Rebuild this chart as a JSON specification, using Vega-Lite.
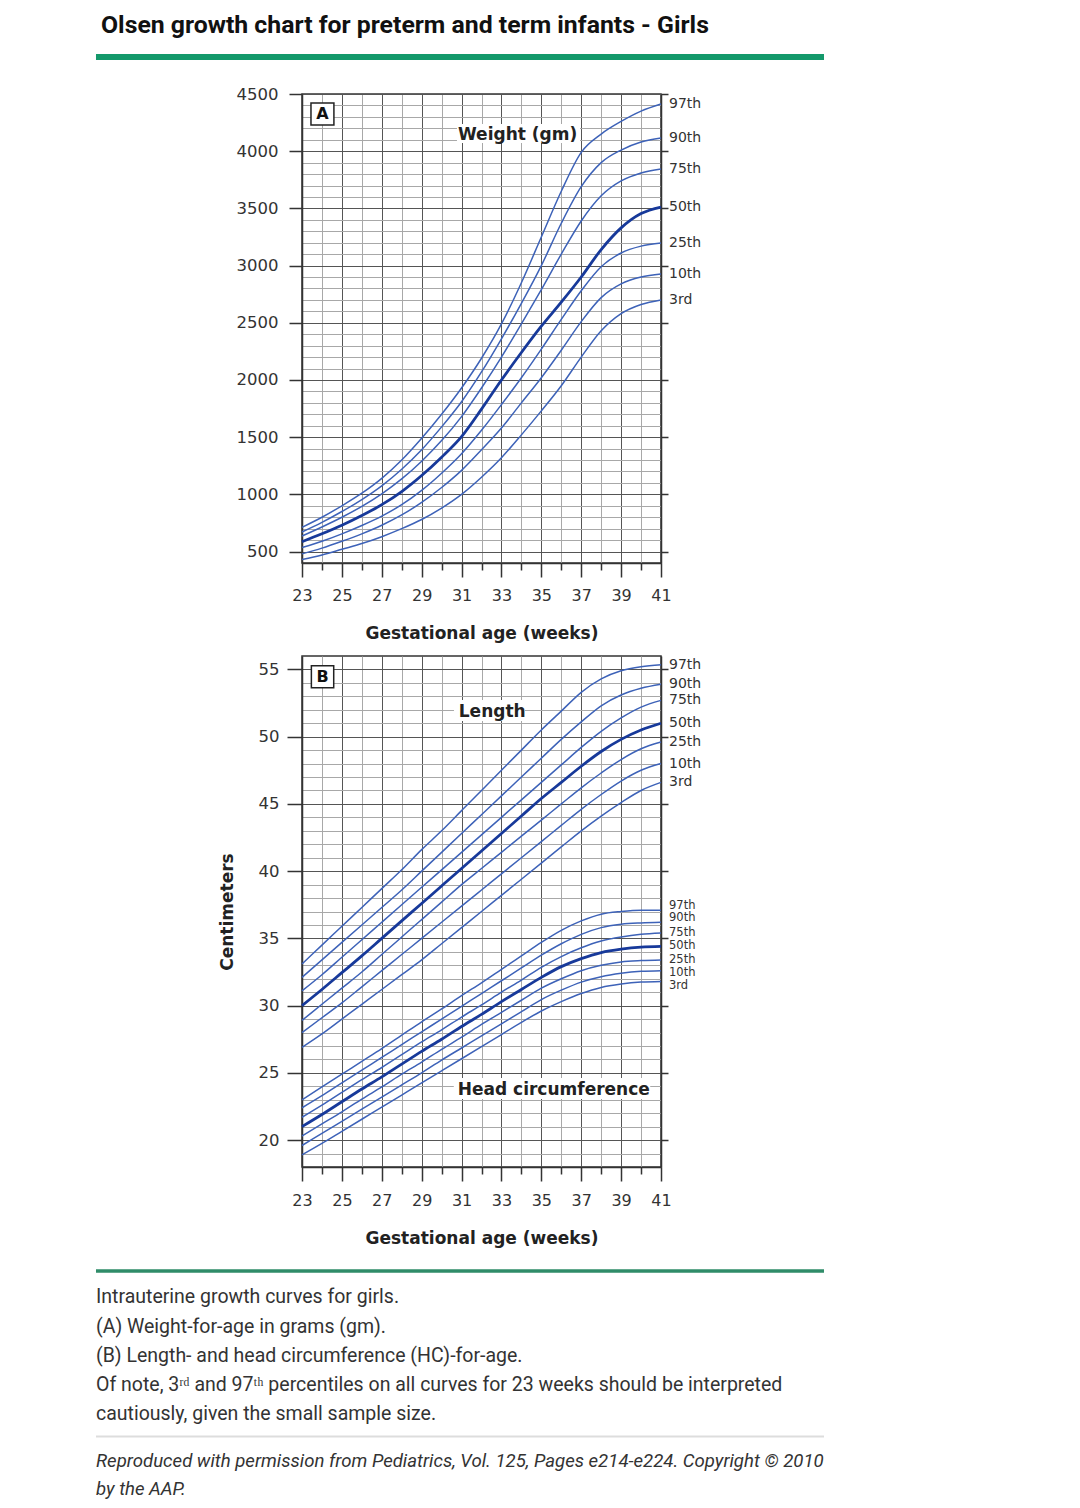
{
  "$schema": "https://vega.github.io/schema/vega-lite/v6.json",
  "background": "white",
  "padding": {"left": 92, "top": 12, "right": 20, "bottom": 10},
  "spacing": 93,
  "bounds": "flush",
  "config": {
    "view": {"stroke": "#333", "strokeWidth": 1.5},
    "axis": {"labelFont": "DejaVu Sans", "titleFont": "DejaVu Sans"}
  },
  "datasets": {
    "g": [
      {"m":"W","p":"3rd","w":23,"v":430},{"m":"W","p":"3rd","w":24,"v":470},{"m":"W","p":"3rd","w":25,"v":520},{"m":"W","p":"3rd","w":26,"v":570},{"m":"W","p":"3rd","w":27,"v":630},{"m":"W","p":"3rd","w":28,"v":700},{"m":"W","p":"3rd","w":29,"v":780},{"m":"W","p":"3rd","w":30,"v":880},{"m":"W","p":"3rd","w":31,"v":1000},{"m":"W","p":"3rd","w":32,"v":1150},{"m":"W","p":"3rd","w":33,"v":1320},{"m":"W","p":"3rd","w":34,"v":1520},{"m":"W","p":"3rd","w":35,"v":1730},{"m":"W","p":"3rd","w":36,"v":1950},{"m":"W","p":"3rd","w":37,"v":2200},{"m":"W","p":"3rd","w":38,"v":2430},{"m":"W","p":"3rd","w":39,"v":2580},{"m":"W","p":"3rd","w":40,"v":2660},{"m":"W","p":"3rd","w":41,"v":2700},
      {"m":"W","p":"10th","w":23,"v":480},{"m":"W","p":"10th","w":24,"v":530},{"m":"W","p":"10th","w":25,"v":590},{"m":"W","p":"10th","w":26,"v":655},{"m":"W","p":"10th","w":27,"v":730},{"m":"W","p":"10th","w":28,"v":820},{"m":"W","p":"10th","w":29,"v":930},{"m":"W","p":"10th","w":30,"v":1060},{"m":"W","p":"10th","w":31,"v":1210},{"m":"W","p":"10th","w":32,"v":1390},{"m":"W","p":"10th","w":33,"v":1580},{"m":"W","p":"10th","w":34,"v":1800},{"m":"W","p":"10th","w":35,"v":2020},{"m":"W","p":"10th","w":36,"v":2260},{"m":"W","p":"10th","w":37,"v":2510},{"m":"W","p":"10th","w":38,"v":2720},{"m":"W","p":"10th","w":39,"v":2840},{"m":"W","p":"10th","w":40,"v":2900},{"m":"W","p":"10th","w":41,"v":2926},
      {"m":"W","p":"25th","w":23,"v":535},{"m":"W","p":"25th","w":24,"v":590},{"m":"W","p":"25th","w":25,"v":655},{"m":"W","p":"25th","w":26,"v":728},{"m":"W","p":"25th","w":27,"v":810},{"m":"W","p":"25th","w":28,"v":910},{"m":"W","p":"25th","w":29,"v":1035},{"m":"W","p":"25th","w":30,"v":1185},{"m":"W","p":"25th","w":31,"v":1355},{"m":"W","p":"25th","w":32,"v":1560},{"m":"W","p":"25th","w":33,"v":1785},{"m":"W","p":"25th","w":34,"v":2020},{"m":"W","p":"25th","w":35,"v":2270},{"m":"W","p":"25th","w":36,"v":2530},{"m":"W","p":"25th","w":37,"v":2780},{"m":"W","p":"25th","w":38,"v":2990},{"m":"W","p":"25th","w":39,"v":3110},{"m":"W","p":"25th","w":40,"v":3170},{"m":"W","p":"25th","w":41,"v":3197},
      {"m":"W","p":"50th","w":23,"v":586},{"m":"W","p":"50th","w":24,"v":655},{"m":"W","p":"50th","w":25,"v":730},{"m":"W","p":"50th","w":26,"v":815},{"m":"W","p":"50th","w":27,"v":910},{"m":"W","p":"50th","w":28,"v":1025},{"m":"W","p":"50th","w":29,"v":1165},{"m":"W","p":"50th","w":30,"v":1325},{"m":"W","p":"50th","w":31,"v":1505},{"m":"W","p":"50th","w":32,"v":1745},{"m":"W","p":"50th","w":33,"v":2000},{"m":"W","p":"50th","w":34,"v":2240},{"m":"W","p":"50th","w":35,"v":2470},{"m":"W","p":"50th","w":36,"v":2680},{"m":"W","p":"50th","w":37,"v":2900},{"m":"W","p":"50th","w":38,"v":3140},{"m":"W","p":"50th","w":39,"v":3330},{"m":"W","p":"50th","w":40,"v":3455},{"m":"W","p":"50th","w":41,"v":3512},
      {"m":"W","p":"75th","w":23,"v":636},{"m":"W","p":"75th","w":24,"v":715},{"m":"W","p":"75th","w":25,"v":800},{"m":"W","p":"75th","w":26,"v":895},{"m":"W","p":"75th","w":27,"v":1005},{"m":"W","p":"75th","w":28,"v":1135},{"m":"W","p":"75th","w":29,"v":1290},{"m":"W","p":"75th","w":30,"v":1470},{"m":"W","p":"75th","w":31,"v":1680},{"m":"W","p":"75th","w":32,"v":1930},{"m":"W","p":"75th","w":33,"v":2200},{"m":"W","p":"75th","w":34,"v":2490},{"m":"W","p":"75th","w":35,"v":2790},{"m":"W","p":"75th","w":36,"v":3100},{"m":"W","p":"75th","w":37,"v":3390},{"m":"W","p":"75th","w":38,"v":3610},{"m":"W","p":"75th","w":39,"v":3740},{"m":"W","p":"75th","w":40,"v":3810},{"m":"W","p":"75th","w":41,"v":3844},
      {"m":"W","p":"90th","w":23,"v":671},{"m":"W","p":"90th","w":24,"v":755},{"m":"W","p":"90th","w":25,"v":850},{"m":"W","p":"90th","w":26,"v":955},{"m":"W","p":"90th","w":27,"v":1075},{"m":"W","p":"90th","w":28,"v":1220},{"m":"W","p":"90th","w":29,"v":1390},{"m":"W","p":"90th","w":30,"v":1590},{"m":"W","p":"90th","w":31,"v":1810},{"m":"W","p":"90th","w":32,"v":2070},{"m":"W","p":"90th","w":33,"v":2360},{"m":"W","p":"90th","w":34,"v":2670},{"m":"W","p":"90th","w":35,"v":3000},{"m":"W","p":"90th","w":36,"v":3370},{"m":"W","p":"90th","w":37,"v":3690},{"m":"W","p":"90th","w":38,"v":3900},{"m":"W","p":"90th","w":39,"v":4010},{"m":"W","p":"90th","w":40,"v":4080},{"m":"W","p":"90th","w":41,"v":4115},
      {"m":"W","p":"97th","w":23,"v":712},{"m":"W","p":"97th","w":24,"v":800},{"m":"W","p":"97th","w":25,"v":900},{"m":"W","p":"97th","w":26,"v":1010},{"m":"W","p":"97th","w":27,"v":1140},{"m":"W","p":"97th","w":28,"v":1300},{"m":"W","p":"97th","w":29,"v":1490},{"m":"W","p":"97th","w":30,"v":1700},{"m":"W","p":"97th","w":31,"v":1930},{"m":"W","p":"97th","w":32,"v":2190},{"m":"W","p":"97th","w":33,"v":2490},{"m":"W","p":"97th","w":34,"v":2850},{"m":"W","p":"97th","w":35,"v":3250},{"m":"W","p":"97th","w":36,"v":3650},{"m":"W","p":"97th","w":37,"v":3990},{"m":"W","p":"97th","w":38,"v":4150},{"m":"W","p":"97th","w":39,"v":4260},{"m":"W","p":"97th","w":40,"v":4350},{"m":"W","p":"97th","w":41,"v":4412},
      {"m":"L","p":"3rd","w":23,"v":26.9},{"m":"L","p":"3rd","w":24,"v":27.9},{"m":"L","p":"3rd","w":25,"v":29.0},{"m":"L","p":"3rd","w":26,"v":30.1},{"m":"L","p":"3rd","w":27,"v":31.2},{"m":"L","p":"3rd","w":28,"v":32.3},{"m":"L","p":"3rd","w":29,"v":33.4},{"m":"L","p":"3rd","w":30,"v":34.6},{"m":"L","p":"3rd","w":31,"v":35.8},{"m":"L","p":"3rd","w":32,"v":37.0},{"m":"L","p":"3rd","w":33,"v":38.2},{"m":"L","p":"3rd","w":34,"v":39.4},{"m":"L","p":"3rd","w":35,"v":40.6},{"m":"L","p":"3rd","w":36,"v":41.8},{"m":"L","p":"3rd","w":37,"v":43.0},{"m":"L","p":"3rd","w":38,"v":44.1},{"m":"L","p":"3rd","w":39,"v":45.1},{"m":"L","p":"3rd","w":40,"v":46.0},{"m":"L","p":"3rd","w":41,"v":46.6},
      {"m":"L","p":"10th","w":23,"v":28.0},{"m":"L","p":"10th","w":24,"v":29.1},{"m":"L","p":"10th","w":25,"v":30.2},{"m":"L","p":"10th","w":26,"v":31.4},{"m":"L","p":"10th","w":27,"v":32.6},{"m":"L","p":"10th","w":28,"v":33.8},{"m":"L","p":"10th","w":29,"v":35.0},{"m":"L","p":"10th","w":30,"v":36.2},{"m":"L","p":"10th","w":31,"v":37.4},{"m":"L","p":"10th","w":32,"v":38.6},{"m":"L","p":"10th","w":33,"v":39.8},{"m":"L","p":"10th","w":34,"v":41.0},{"m":"L","p":"10th","w":35,"v":42.2},{"m":"L","p":"10th","w":36,"v":43.4},{"m":"L","p":"10th","w":37,"v":44.6},{"m":"L","p":"10th","w":38,"v":45.7},{"m":"L","p":"10th","w":39,"v":46.7},{"m":"L","p":"10th","w":40,"v":47.5},{"m":"L","p":"10th","w":41,"v":48.0},
      {"m":"L","p":"25th","w":23,"v":28.9},{"m":"L","p":"25th","w":24,"v":30.1},{"m":"L","p":"25th","w":25,"v":31.3},{"m":"L","p":"25th","w":26,"v":32.5},{"m":"L","p":"25th","w":27,"v":33.8},{"m":"L","p":"25th","w":28,"v":35.1},{"m":"L","p":"25th","w":29,"v":36.4},{"m":"L","p":"25th","w":30,"v":37.7},{"m":"L","p":"25th","w":31,"v":39.0},{"m":"L","p":"25th","w":32,"v":40.2},{"m":"L","p":"25th","w":33,"v":41.4},{"m":"L","p":"25th","w":34,"v":42.6},{"m":"L","p":"25th","w":35,"v":43.8},{"m":"L","p":"25th","w":36,"v":45.0},{"m":"L","p":"25th","w":37,"v":46.2},{"m":"L","p":"25th","w":38,"v":47.3},{"m":"L","p":"25th","w":39,"v":48.3},{"m":"L","p":"25th","w":40,"v":49.1},{"m":"L","p":"25th","w":41,"v":49.6},
      {"m":"L","p":"50th","w":23,"v":30.0},{"m":"L","p":"50th","w":24,"v":31.2},{"m":"L","p":"50th","w":25,"v":32.45},{"m":"L","p":"50th","w":26,"v":33.7},{"m":"L","p":"50th","w":27,"v":35.0},{"m":"L","p":"50th","w":28,"v":36.3},{"m":"L","p":"50th","w":29,"v":37.6},{"m":"L","p":"50th","w":30,"v":38.9},{"m":"L","p":"50th","w":31,"v":40.2},{"m":"L","p":"50th","w":32,"v":41.5},{"m":"L","p":"50th","w":33,"v":42.8},{"m":"L","p":"50th","w":34,"v":44.1},{"m":"L","p":"50th","w":35,"v":45.4},{"m":"L","p":"50th","w":36,"v":46.6},{"m":"L","p":"50th","w":37,"v":47.8},{"m":"L","p":"50th","w":38,"v":48.9},{"m":"L","p":"50th","w":39,"v":49.8},{"m":"L","p":"50th","w":40,"v":50.5},{"m":"L","p":"50th","w":41,"v":51.0},
      {"m":"L","p":"75th","w":23,"v":31.1},{"m":"L","p":"75th","w":24,"v":32.3},{"m":"L","p":"75th","w":25,"v":33.6},{"m":"L","p":"75th","w":26,"v":34.9},{"m":"L","p":"75th","w":27,"v":36.2},{"m":"L","p":"75th","w":28,"v":37.5},{"m":"L","p":"75th","w":29,"v":38.8},{"m":"L","p":"75th","w":30,"v":40.1},{"m":"L","p":"75th","w":31,"v":41.4},{"m":"L","p":"75th","w":32,"v":42.7},{"m":"L","p":"75th","w":33,"v":44.0},{"m":"L","p":"75th","w":34,"v":45.3},{"m":"L","p":"75th","w":35,"v":46.6},{"m":"L","p":"75th","w":36,"v":47.9},{"m":"L","p":"75th","w":37,"v":49.2},{"m":"L","p":"75th","w":38,"v":50.4},{"m":"L","p":"75th","w":39,"v":51.4},{"m":"L","p":"75th","w":40,"v":52.2},{"m":"L","p":"75th","w":41,"v":52.7},
      {"m":"L","p":"90th","w":23,"v":32.1},{"m":"L","p":"90th","w":24,"v":33.4},{"m":"L","p":"90th","w":25,"v":34.7},{"m":"L","p":"90th","w":26,"v":36.0},{"m":"L","p":"90th","w":27,"v":37.3},{"m":"L","p":"90th","w":28,"v":38.6},{"m":"L","p":"90th","w":29,"v":40.0},{"m":"L","p":"90th","w":30,"v":41.4},{"m":"L","p":"90th","w":31,"v":42.8},{"m":"L","p":"90th","w":32,"v":44.2},{"m":"L","p":"90th","w":33,"v":45.6},{"m":"L","p":"90th","w":34,"v":47.0},{"m":"L","p":"90th","w":35,"v":48.4},{"m":"L","p":"90th","w":36,"v":49.8},{"m":"L","p":"90th","w":37,"v":51.1},{"m":"L","p":"90th","w":38,"v":52.3},{"m":"L","p":"90th","w":39,"v":53.1},{"m":"L","p":"90th","w":40,"v":53.6},{"m":"L","p":"90th","w":41,"v":53.9},
      {"m":"L","p":"97th","w":23,"v":33.1},{"m":"L","p":"97th","w":24,"v":34.5},{"m":"L","p":"97th","w":25,"v":35.9},{"m":"L","p":"97th","w":26,"v":37.3},{"m":"L","p":"97th","w":27,"v":38.7},{"m":"L","p":"97th","w":28,"v":40.1},{"m":"L","p":"97th","w":29,"v":41.6},{"m":"L","p":"97th","w":30,"v":43.0},{"m":"L","p":"97th","w":31,"v":44.5},{"m":"L","p":"97th","w":32,"v":46.0},{"m":"L","p":"97th","w":33,"v":47.5},{"m":"L","p":"97th","w":34,"v":49.0},{"m":"L","p":"97th","w":35,"v":50.5},{"m":"L","p":"97th","w":36,"v":51.9},{"m":"L","p":"97th","w":37,"v":53.3},{"m":"L","p":"97th","w":38,"v":54.3},{"m":"L","p":"97th","w":39,"v":54.9},{"m":"L","p":"97th","w":40,"v":55.2},{"m":"L","p":"97th","w":41,"v":55.35},
      {"m":"H","p":"3rd","w":23,"v":18.9},{"m":"H","p":"3rd","w":24,"v":19.75},{"m":"H","p":"3rd","w":25,"v":20.65},{"m":"H","p":"3rd","w":26,"v":21.55},{"m":"H","p":"3rd","w":27,"v":22.45},{"m":"H","p":"3rd","w":28,"v":23.35},{"m":"H","p":"3rd","w":29,"v":24.25},{"m":"H","p":"3rd","w":30,"v":25.15},{"m":"H","p":"3rd","w":31,"v":26.05},{"m":"H","p":"3rd","w":32,"v":26.95},{"m":"H","p":"3rd","w":33,"v":27.85},{"m":"H","p":"3rd","w":34,"v":28.75},{"m":"H","p":"3rd","w":35,"v":29.6},{"m":"H","p":"3rd","w":36,"v":30.3},{"m":"H","p":"3rd","w":37,"v":30.9},{"m":"H","p":"3rd","w":38,"v":31.35},{"m":"H","p":"3rd","w":39,"v":31.6},{"m":"H","p":"3rd","w":40,"v":31.75},{"m":"H","p":"3rd","w":41,"v":31.8},
      {"m":"H","p":"10th","w":23,"v":19.6},{"m":"H","p":"10th","w":24,"v":20.5},{"m":"H","p":"10th","w":25,"v":21.4},{"m":"H","p":"10th","w":26,"v":22.3},{"m":"H","p":"10th","w":27,"v":23.2},{"m":"H","p":"10th","w":28,"v":24.1},{"m":"H","p":"10th","w":29,"v":25.0},{"m":"H","p":"10th","w":30,"v":25.95},{"m":"H","p":"10th","w":31,"v":26.85},{"m":"H","p":"10th","w":32,"v":27.75},{"m":"H","p":"10th","w":33,"v":28.65},{"m":"H","p":"10th","w":34,"v":29.55},{"m":"H","p":"10th","w":35,"v":30.45},{"m":"H","p":"10th","w":36,"v":31.15},{"m":"H","p":"10th","w":37,"v":31.75},{"m":"H","p":"10th","w":38,"v":32.15},{"m":"H","p":"10th","w":39,"v":32.4},{"m":"H","p":"10th","w":40,"v":32.55},{"m":"H","p":"10th","w":41,"v":32.6},
      {"m":"H","p":"25th","w":23,"v":20.3},{"m":"H","p":"25th","w":24,"v":21.2},{"m":"H","p":"25th","w":25,"v":22.1},{"m":"H","p":"25th","w":26,"v":23.05},{"m":"H","p":"25th","w":27,"v":23.95},{"m":"H","p":"25th","w":28,"v":24.9},{"m":"H","p":"25th","w":29,"v":25.8},{"m":"H","p":"25th","w":30,"v":26.75},{"m":"H","p":"25th","w":31,"v":27.65},{"m":"H","p":"25th","w":32,"v":28.6},{"m":"H","p":"25th","w":33,"v":29.5},{"m":"H","p":"25th","w":34,"v":30.4},{"m":"H","p":"25th","w":35,"v":31.3},{"m":"H","p":"25th","w":36,"v":32.0},{"m":"H","p":"25th","w":37,"v":32.6},{"m":"H","p":"25th","w":38,"v":33.0},{"m":"H","p":"25th","w":39,"v":33.25},{"m":"H","p":"25th","w":40,"v":33.35},{"m":"H","p":"25th","w":41,"v":33.4},
      {"m":"H","p":"50th","w":23,"v":21.0},{"m":"H","p":"50th","w":24,"v":21.9},{"m":"H","p":"50th","w":25,"v":22.85},{"m":"H","p":"50th","w":26,"v":23.8},{"m":"H","p":"50th","w":27,"v":24.7},{"m":"H","p":"50th","w":28,"v":25.65},{"m":"H","p":"50th","w":29,"v":26.6},{"m":"H","p":"50th","w":30,"v":27.5},{"m":"H","p":"50th","w":31,"v":28.45},{"m":"H","p":"50th","w":32,"v":29.35},{"m":"H","p":"50th","w":33,"v":30.3},{"m":"H","p":"50th","w":34,"v":31.2},{"m":"H","p":"50th","w":35,"v":32.1},{"m":"H","p":"50th","w":36,"v":32.9},{"m":"H","p":"50th","w":37,"v":33.5},{"m":"H","p":"50th","w":38,"v":33.95},{"m":"H","p":"50th","w":39,"v":34.2},{"m":"H","p":"50th","w":40,"v":34.35},{"m":"H","p":"50th","w":41,"v":34.4},
      {"m":"H","p":"75th","w":23,"v":21.7},{"m":"H","p":"75th","w":24,"v":22.6},{"m":"H","p":"75th","w":25,"v":23.55},{"m":"H","p":"75th","w":26,"v":24.5},{"m":"H","p":"75th","w":27,"v":25.4},{"m":"H","p":"75th","w":28,"v":26.35},{"m":"H","p":"75th","w":29,"v":27.3},{"m":"H","p":"75th","w":30,"v":28.2},{"m":"H","p":"75th","w":31,"v":29.15},{"m":"H","p":"75th","w":32,"v":30.05},{"m":"H","p":"75th","w":33,"v":31.0},{"m":"H","p":"75th","w":34,"v":31.9},{"m":"H","p":"75th","w":35,"v":32.85},{"m":"H","p":"75th","w":36,"v":33.65},{"m":"H","p":"75th","w":37,"v":34.3},{"m":"H","p":"75th","w":38,"v":34.8},{"m":"H","p":"75th","w":39,"v":35.1},{"m":"H","p":"75th","w":40,"v":35.3},{"m":"H","p":"75th","w":41,"v":35.4},
      {"m":"H","p":"90th","w":23,"v":22.4},{"m":"H","p":"90th","w":24,"v":23.3},{"m":"H","p":"90th","w":25,"v":24.25},{"m":"H","p":"90th","w":26,"v":25.2},{"m":"H","p":"90th","w":27,"v":26.15},{"m":"H","p":"90th","w":28,"v":27.1},{"m":"H","p":"90th","w":29,"v":28.05},{"m":"H","p":"90th","w":30,"v":29.0},{"m":"H","p":"90th","w":31,"v":29.95},{"m":"H","p":"90th","w":32,"v":30.9},{"m":"H","p":"90th","w":33,"v":31.85},{"m":"H","p":"90th","w":34,"v":32.8},{"m":"H","p":"90th","w":35,"v":33.75},{"m":"H","p":"90th","w":36,"v":34.6},{"m":"H","p":"90th","w":37,"v":35.3},{"m":"H","p":"90th","w":38,"v":35.8},{"m":"H","p":"90th","w":39,"v":36.05},{"m":"H","p":"90th","w":40,"v":36.15},{"m":"H","p":"90th","w":41,"v":36.2},
      {"m":"H","p":"97th","w":23,"v":23.0},{"m":"H","p":"97th","w":24,"v":23.95},{"m":"H","p":"97th","w":25,"v":24.9},{"m":"H","p":"97th","w":26,"v":25.85},{"m":"H","p":"97th","w":27,"v":26.8},{"m":"H","p":"97th","w":28,"v":27.8},{"m":"H","p":"97th","w":29,"v":28.8},{"m":"H","p":"97th","w":30,"v":29.75},{"m":"H","p":"97th","w":31,"v":30.75},{"m":"H","p":"97th","w":32,"v":31.7},{"m":"H","p":"97th","w":33,"v":32.7},{"m":"H","p":"97th","w":34,"v":33.7},{"m":"H","p":"97th","w":35,"v":34.7},{"m":"H","p":"97th","w":36,"v":35.6},{"m":"H","p":"97th","w":37,"v":36.3},{"m":"H","p":"97th","w":38,"v":36.8},{"m":"H","p":"97th","w":39,"v":37.0},{"m":"H","p":"97th","w":40,"v":37.1},{"m":"H","p":"97th","w":41,"v":37.1}
    ]
  },
  "vconcat": [
    {
      "width": 359,
      "height": 469,
      "resolve": {"axis": {"y": "independent"}},
      "layer": [
        {
          "data": {"name": "g"},
          "transform": [{"filter": "datum.m === 'W'"}],
          "mark": {"type": "line", "interpolate": "monotone"},
          "encoding": {
            "x": {
              "field": "w", "type": "quantitative",
              "scale": {"domain": [23, 41], "nice": false, "zero": false},
              "axis": {
                "values": [23,23.5,24,24.5,25,25.5,26,26.5,27,27.5,28,28.5,29,29.5,30,30.5,31,31.5,32,32.5,33,33.5,34,34.5,35,35.5,36,36.5,37,37.5,38,38.5,39,39.5,40,40.5,41],
                "tickCount": 1000, "format": "d",
                "title": "Gestational age (weeks)",
                "titleFontSize": 17, "titleFontWeight": "bold", "titleColor": "#222", "titlePadding": 22,
                "labelExpr": "datum.value % 2 === 1 ? datum.label : ''",
                "labelFontSize": 16, "labelColor": "#333", "labelPadding": 10, "labelFlush": false, "labelOverlap": false,
                "tickSize": {"condition": {"test": "datum.value % 2 === 1", "value": 14}, "value": 7},
                "tickOpacity": {"condition": {"test": "datum.value % 1 !== 0", "value": 0}, "value": 1},
                "tickColor": "#333", "tickWidth": 1.5,
                "domainColor": "#333", "domainWidth": 1.5,
                "grid": true,
                "gridColor": {"condition": {"test": "datum.value % 2 === 1", "value": "#555"}, "value": "#a8a8a8"},
                "gridWidth": 1
              }
            },
            "y": {
              "field": "v", "type": "quantitative",
              "scale": {"domain": [400, 4500], "nice": false, "zero": false},
              "axis": {
                "values": [500,600,700,800,900,1000,1100,1200,1300,1400,1500,1600,1700,1800,1900,2000,2100,2200,2300,2400,2500,2600,2700,2800,2900,3000,3100,3200,3300,3400,3500,3600,3700,3800,3900,4000,4100,4200,4300,4400,4500],
                "tickCount": 1000,
                "title": null, "format": "d",
                "labelExpr": "datum.value % 500 === 0 ? datum.label : ''",
                "labelFontSize": 16.5, "labelColor": "#333", "labelPadding": 11, "labelOverlap": false,
                "tickSize": 13,
                "tickOpacity": {"condition": {"test": "datum.value % 500 === 0", "value": 1}, "value": 0},
                "tickColor": "#333", "tickWidth": 1.5,
                "domainColor": "#333", "domainWidth": 1.5,
                "grid": true,
                "gridColor": {"condition": {"test": "datum.value % 500 === 0", "value": "#555"}, "value": "#a8a8a8"},
                "gridWidth": 1
              }
            },
            "detail": {"field": "p"},
            "stroke": {"condition": {"test": "datum.p === '50th'", "value": "#17399a"}, "value": "#3d62b8"},
            "strokeWidth": {"condition": {"test": "datum.p === '50th'", "value": 2.8}, "value": 1.5}
          }
        },
        {
          "data": {"name": "g"},
          "transform": [{"filter": "datum.m === 'W' && datum.w === 41"}],
          "mark": {"type": "text", "align": "left", "baseline": "middle", "dx": 8, "font": "DejaVu Sans", "fontSize": 14, "fill": "#333"},
          "encoding": {
            "x": {"field": "w", "type": "quantitative"},
            "y": {
              "field": "v", "type": "quantitative",
              "axis": {"orient": "right", "values": [500,1000,1500,2000,2500,3000,3500,4000,4500], "tickCount": 1000, "tickSize": 7, "labels": false, "grid": false, "title": null, "domainColor": "#333", "domainWidth": 1.5, "tickColor": "#333", "tickWidth": 1.5}
            },
            "text": {"field": "p"}
          }
        },
        {
          "data": {"values": [{}]},
          "mark": {"type": "text", "align": "left", "baseline": "alphabetic", "font": "Roboto", "fontSize": 24.8, "fontWeight": "bold", "fill": "#111"},
          "encoding": {
            "x": {"datum": 12.922, "type": "quantitative"},
            "y": {"datum": 5029, "type": "quantitative", "axis": null},
            "text": {"value": "Olsen growth chart for preterm and term infants - Girls"}
          }
        },
        {
          "data": {"values": [{}]},
          "mark": {"type": "rule", "stroke": "#14996b", "strokeWidth": 6},
          "encoding": {
            "x": {"datum": 12.671, "type": "quantitative"},
            "x2": {"datum": 49.173},
            "y": {"datum": 4823, "type": "quantitative", "axis": null}
          }
        },
        {
          "data": {"values": [{}]},
          "mark": {"type": "rect", "fill": "white", "stroke": "#222", "strokeWidth": 1.5},
          "encoding": {
            "x": {"datum": 23.45, "type": "quantitative"},
            "x2": {"datum": 24.6},
            "y": {"datum": 4421, "type": "quantitative", "axis": null},
            "y2": {"datum": 4229}
          }
        },
        {
          "data": {"values": [{}]},
          "mark": {"type": "text", "align": "center", "baseline": "middle", "font": "DejaVu Sans", "fontSize": 16, "fontWeight": "bold", "fill": "#111"},
          "encoding": {
            "x": {"datum": 24.03, "type": "quantitative"},
            "y": {"datum": 4325, "type": "quantitative", "axis": null},
            "text": {"value": "A"}
          }
        },
        {
          "data": {"values": [{}]},
          "mark": {"type": "rect", "fill": "white"},
          "encoding": {
            "x": {"datum": 30.77, "type": "quantitative"},
            "x2": {"datum": 36.94},
            "y": {"datum": 4238, "type": "quantitative", "axis": null},
            "y2": {"datum": 4072}
          }
        },
        {
          "data": {"values": [{}]},
          "mark": {"type": "text", "align": "left", "baseline": "alphabetic", "font": "DejaVu Sans", "fontSize": 17, "fontWeight": "bold", "fill": "#222"},
          "encoding": {
            "x": {"datum": 30.82, "type": "quantitative"},
            "y": {"datum": 4102, "type": "quantitative", "axis": null},
            "text": {"value": "Weight (gm)"}
          }
        }
      ]
    },
    {
      "width": 359,
      "height": 511,
      "resolve": {"axis": {"y": "independent"}},
      "layer": [
        {
          "data": {"name": "g"},
          "transform": [{"filter": "datum.m !== 'W'"}],
          "mark": {"type": "line", "interpolate": "monotone"},
          "encoding": {
            "x": {
              "field": "w", "type": "quantitative",
              "scale": {"domain": [23, 41], "nice": false, "zero": false},
              "axis": {
                "values": [23,23.5,24,24.5,25,25.5,26,26.5,27,27.5,28,28.5,29,29.5,30,30.5,31,31.5,32,32.5,33,33.5,34,34.5,35,35.5,36,36.5,37,37.5,38,38.5,39,39.5,40,40.5,41],
                "tickCount": 1000, "format": "d",
                "title": "Gestational age (weeks)",
                "titleFontSize": 17, "titleFontWeight": "bold", "titleColor": "#222", "titlePadding": 22,
                "labelExpr": "datum.value % 2 === 1 ? datum.label : ''",
                "labelFontSize": 16, "labelColor": "#333", "labelPadding": 11, "labelFlush": false, "labelOverlap": false,
                "tickSize": {"condition": {"test": "datum.value % 2 === 1", "value": 14}, "value": 7},
                "tickOpacity": {"condition": {"test": "datum.value % 1 !== 0", "value": 0}, "value": 1},
                "tickColor": "#333", "tickWidth": 1.5,
                "domainColor": "#333", "domainWidth": 1.5,
                "grid": true,
                "gridColor": {"condition": {"test": "datum.value % 2 === 1", "value": "#555"}, "value": "#a8a8a8"},
                "gridWidth": 1
              }
            },
            "y": {
              "field": "v", "type": "quantitative",
              "scale": {"domain": [18, 56], "nice": false, "zero": false},
              "axis": {
                "values": [19,20,21,22,23,24,25,26,27,28,29,30,31,32,33,34,35,36,37,38,39,40,41,42,43,44,45,46,47,48,49,50,51,52,53,54,55],
                "tickCount": 1000, "format": "d",
                "title": "Centimeters", "titleFontSize": 17, "titleFontWeight": "bold", "titleColor": "#222", "titlePadding": 22,
                "labelExpr": "datum.value % 5 === 0 ? datum.label : ''",
                "labelFontSize": 16.5, "labelColor": "#333", "labelPadding": 8, "labelOverlap": false,
                "tickSize": 15,
                "tickOpacity": {"condition": {"test": "datum.value % 5 === 0", "value": 1}, "value": 0},
                "tickColor": "#333", "tickWidth": 1.5,
                "domainColor": "#333", "domainWidth": 1.5,
                "grid": true,
                "gridColor": {"condition": {"test": "datum.value % 5 === 0", "value": "#555"}, "value": "#a8a8a8"},
                "gridWidth": 1
              }
            },
            "detail": [{"field": "m"}, {"field": "p"}],
            "stroke": {"condition": {"test": "datum.p === '50th'", "value": "#17399a"}, "value": "#3d62b8"},
            "strokeWidth": {"condition": {"test": "datum.p === '50th'", "value": 2.8}, "value": 1.5}
          }
        },
        {
          "data": {"name": "g"},
          "transform": [{"filter": "datum.m === 'L' && datum.w === 41"}],
          "mark": {"type": "text", "align": "left", "baseline": "middle", "dx": 8, "font": "DejaVu Sans", "fontSize": 14, "fill": "#333"},
          "encoding": {
            "x": {"field": "w", "type": "quantitative"},
            "y": {
              "field": "v", "type": "quantitative",
              "axis": {"orient": "right", "values": [20,25,30,35,40,45,50,55], "tickCount": 1000, "tickSize": 7, "labels": false, "grid": false, "title": null, "domainColor": "#333", "domainWidth": 1.5, "tickColor": "#333", "tickWidth": 1.5}
            },
            "text": {"field": "p"}
          }
        },
        {
          "data": {"name": "g"},
          "transform": [{"filter": "datum.m === 'H' && datum.w === 41 && (datum.p === '97th' || datum.p === '90th')"}],
          "mark": {"type": "text", "align": "left", "baseline": "middle", "dx": 8, "dy": -4, "font": "DejaVu Sans", "fontSize": 11.5, "fill": "#333"},
          "encoding": {
            "x": {"field": "w", "type": "quantitative"},
            "y": {"field": "v", "type": "quantitative", "axis": null},
            "text": {"field": "p"}
          }
        },
        {
          "data": {"name": "g"},
          "transform": [{"filter": "datum.m === 'H' && datum.w === 41 && (datum.p === '75th' || datum.p === '50th' || datum.p === '25th')"}],
          "mark": {"type": "text", "align": "left", "baseline": "middle", "dx": 8, "font": "DejaVu Sans", "fontSize": 11.5, "fill": "#333"},
          "encoding": {
            "x": {"field": "w", "type": "quantitative"},
            "y": {"field": "v", "type": "quantitative", "axis": null},
            "text": {"field": "p"}
          }
        },
        {
          "data": {"name": "g"},
          "transform": [{"filter": "datum.m === 'H' && datum.w === 41 && datum.p === '10th'"}],
          "mark": {"type": "text", "align": "left", "baseline": "middle", "dx": 8, "dy": 2.5, "font": "DejaVu Sans", "fontSize": 11.5, "fill": "#333"},
          "encoding": {
            "x": {"field": "w", "type": "quantitative"},
            "y": {"field": "v", "type": "quantitative", "axis": null},
            "text": {"field": "p"}
          }
        },
        {
          "data": {"name": "g"},
          "transform": [{"filter": "datum.m === 'H' && datum.w === 41 && datum.p === '3rd'"}],
          "mark": {"type": "text", "align": "left", "baseline": "middle", "dx": 8, "dy": 5, "font": "DejaVu Sans", "fontSize": 11.5, "fill": "#333"},
          "encoding": {
            "x": {"field": "w", "type": "quantitative"},
            "y": {"field": "v", "type": "quantitative", "axis": null},
            "text": {"field": "p"}
          }
        },
        {
          "data": {"values": [{}]},
          "mark": {"type": "rect", "fill": "white", "stroke": "#222", "strokeWidth": 1.5},
          "encoding": {
            "x": {"datum": 23.47, "type": "quantitative"},
            "x2": {"datum": 24.59},
            "y": {"datum": 55.28, "type": "quantitative", "axis": null},
            "y2": {"datum": 53.64}
          }
        },
        {
          "data": {"values": [{}]},
          "mark": {"type": "text", "align": "center", "baseline": "middle", "font": "DejaVu Sans", "fontSize": 16, "fontWeight": "bold", "fill": "#111"},
          "encoding": {
            "x": {"datum": 24.03, "type": "quantitative"},
            "y": {"datum": 54.46, "type": "quantitative", "axis": null},
            "text": {"value": "B"}
          }
        },
        {
          "data": {"values": [{}]},
          "mark": {"type": "rect", "fill": "white"},
          "encoding": {
            "x": {"datum": 30.62, "type": "quantitative"},
            "x2": {"datum": 34.18},
            "y": {"datum": 52.73, "type": "quantitative", "axis": null},
            "y2": {"datum": 51.17}
          }
        },
        {
          "data": {"values": [{}]},
          "mark": {"type": "text", "align": "left", "baseline": "alphabetic", "font": "DejaVu Sans", "fontSize": 17, "fontWeight": "bold", "fill": "#222"},
          "encoding": {
            "x": {"datum": 30.86, "type": "quantitative"},
            "y": {"datum": 51.46, "type": "quantitative", "axis": null},
            "text": {"value": "Length"}
          }
        },
        {
          "data": {"values": [{}]},
          "mark": {"type": "rect", "fill": "white"},
          "encoding": {
            "x": {"datum": 30.61, "type": "quantitative"},
            "x2": {"datum": 40.46},
            "y": {"datum": 24.62, "type": "quantitative", "axis": null},
            "y2": {"datum": 23.06}
          }
        },
        {
          "data": {"values": [{}]},
          "mark": {"type": "text", "align": "left", "baseline": "alphabetic", "font": "DejaVu Sans", "fontSize": 17, "fontWeight": "bold", "fill": "#222"},
          "encoding": {
            "x": {"datum": 30.81, "type": "quantitative"},
            "y": {"datum": 23.35, "type": "quantitative", "axis": null},
            "text": {"value": "Head circumference"}
          }
        },
        {
          "data": {"values": [{}]},
          "mark": {"type": "rule", "stroke": "#2f8c69", "strokeWidth": 3.5},
          "encoding": {
            "x": {"datum": 12.671, "type": "quantitative"},
            "x2": {"datum": 49.173},
            "y": {"datum": 10.265, "type": "quantitative", "axis": null}
          }
        },
        {
          "data": {"values": [{}]},
          "mark": {"type": "text", "align": "left", "baseline": "alphabetic", "font": "Roboto", "fontSize": 19.5, "lineHeight": 29.1, "fill": "#333"},
          "encoding": {
            "x": {"datum": 12.671, "type": "quantitative"},
            "y": {"datum": 7.85, "type": "quantitative", "axis": null},
            "text": {"value": ["Intrauterine growth curves for girls.", "(A) Weight-for-age in grams (gm).", "(B) Length- and head circumference (HC)-for-age.", "Of note, 3ʳᵈ and 97ᵗʰ percentiles on all curves for 23 weeks should be interpreted", "cautiously, given the small sample size."]}
          }
        },
        {
          "data": {"values": [{}]},
          "mark": {"type": "rule", "stroke": "#dddddd", "strokeWidth": 2},
          "encoding": {
            "x": {"datum": 12.671, "type": "quantitative"},
            "x2": {"datum": 49.173},
            "y": {"datum": -2.043, "type": "quantitative", "axis": null}
          }
        },
        {
          "data": {"values": [{}]},
          "mark": {"type": "text", "align": "left", "baseline": "alphabetic", "font": "Roboto", "fontSize": 18.6, "fontStyle": "italic", "lineHeight": 28, "fill": "#333"},
          "encoding": {
            "x": {"datum": 12.671, "type": "quantitative"},
            "y": {"datum": -4.31, "type": "quantitative", "axis": null},
            "text": {"value": ["Reproduced with permission from Pediatrics, Vol. 125, Pages e214-e224. Copyright © 2010", "by the AAP."]}
          }
        }
      ]
    }
  ]
}
